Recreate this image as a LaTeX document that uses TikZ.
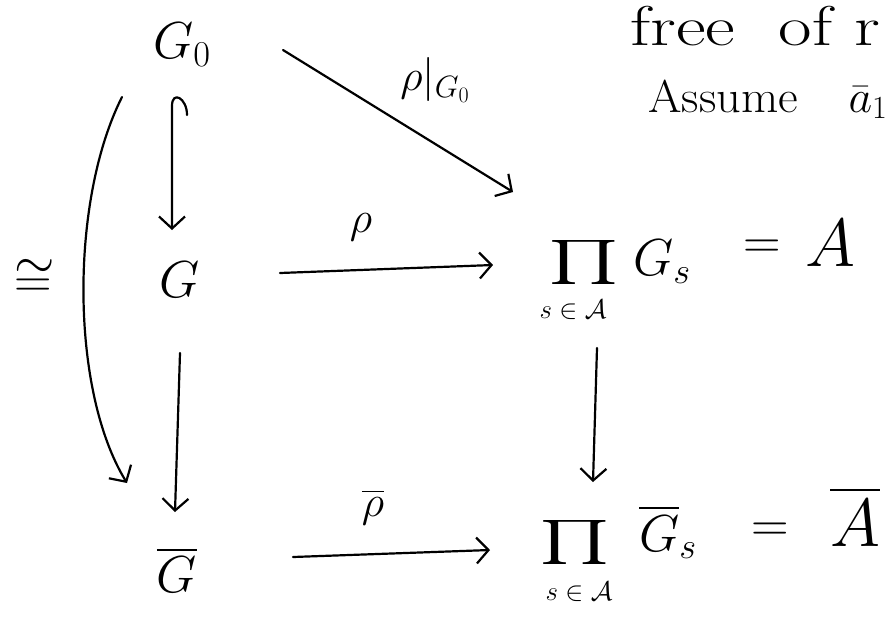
\RequirePackage{fix-cm}
\documentclass[tikz,border=0pt]{standalone}
\usepackage{amsmath,amssymb}
\usepackage{graphicx}
\usetikzlibrary{arrows.meta}

\tikzset{
  hand/.style={line width=2.2pt, line cap=round, line join=round},
  arr/.style={hand, -{Straight Barb[length=12pt,width=26pt,line width=2.2pt]}},
  bigm/.style={font=\fontsize{52}{60}\selectfont, inner sep=0pt},
  hugem/.style={font=\fontsize{68}{76}\selectfont, inner sep=0pt},
  prodm/.style={font=\fontsize{44}{50}\selectfont, inner sep=0pt},
  lab/.style={font=\fontsize{44}{50}\selectfont, inner sep=0pt},
  subm/.style={font=\fontsize{27}{30}\selectfont, inner sep=0pt},
  words/.style={inner sep=0pt, anchor=base west},
}

\begin{document}
\begin{tikzpicture}[x=1pt,y=-1pt]
  \useasboundingbox (0,0) rectangle (891,630);
  \clip (0,0) rectangle (891,630);

  % objects of the diagram
  \node[bigm] (G0)   at (182,45)  {$G_0$};
  \node[bigm] (G)    at (180,280) {$G$};
  \node[bigm] (Gbar) at (177,570) {$\overline{G}$};

  \node[prodm] (P1)   at (584,262) {\scalebox{1.7}[1]{$\prod$}};
  \node[subm]  (S1)   at (573,310) {$s\in\mathcal{A}$};
  \node[bigm]  (Gs1)  at (662,262) {$G_s$};
  \node[bigm]  (Eq1)  at (762,249) {$=$};
  \node[hugem] (A1)   at (830,243) {$A$};

  \node[prodm] (P2)   at (575,542) {\scalebox{1.7}[1]{$\prod$}};
  \node[subm]  (S2)   at (579,592) {$s\in\mathcal{A}$};
  \node[bigm]  (Gs2)  at (668,532) {$\overline{G}_s$};
  \node[bigm]  (Eq2)  at (770,532) {$=$};
  \node[hugem] (A2)   at (855,516) {$\overline{A}$};

  % arrow labels
  \node[lab]  (rho)    at (361,227) {$\rho$};
  \node[lab]  (rhoG0)  at (435,80)  {$\rho|_{G_0}$};
  \node[lab]  (rhobar) at (373,507) {$\overline{\rho}$};
  % isomorphism sign: a tilde set just above an equals sign
  \node[bigm] (iso)    at (35,288)
    {$\mathrel{\ooalign{$=$\cr\raise0.36em\hbox{$\sim$}\cr}}$};

  % notes in the corner
  \node[words, font=\fontsize{56}{60}\selectfont] (note1) at (630,45)
    {\scalebox{1.3}[1]{free\hspace{0.6em}of\hspace{0.3em}r}};
  \node[words, font=\fontsize{46}{52}\selectfont] (note2) at (648,112)
    {\scalebox{1.05}[1]{Assume}\hspace{1.1em}$\bar a_1$};

  % connector end points
  \coordinate (dgS) at (283,50);
  \coordinate (dgE) at (513,192);
  \coordinate (hkS) at (187,115);
  \coordinate (hkE) at (172,230);
  \coordinate (vlS) at (180,353);
  \coordinate (vlE) at (175,512);
  \coordinate (rhS) at (280,273);
  \coordinate (rhE) at (493,265);
  \coordinate (rbS) at (293,557);
  \coordinate (rbE) at (490,550);
  \coordinate (vrS) at (597,348);
  \coordinate (vrE) at (593,482);
  \coordinate (isS) at (122,97);
  \coordinate (isE) at (127,483);

  % connectors
  \draw[arr] (dgS) -- (dgE);
  \draw[arr] (hkS) .. controls (187,98) and (172,90) .. (172,106) -- (hkE);
  \draw[arr] (vlS) -- (vlE);
  \draw[arr] (rhS) -- (rhE);
  \draw[arr] (rbS) -- (rbE);
  \draw[arr] (vrS) -- (vrE);
  \draw[arr] (isS) .. controls (70,200) and (70,390) .. (isE);
\end{tikzpicture}
\end{document}
